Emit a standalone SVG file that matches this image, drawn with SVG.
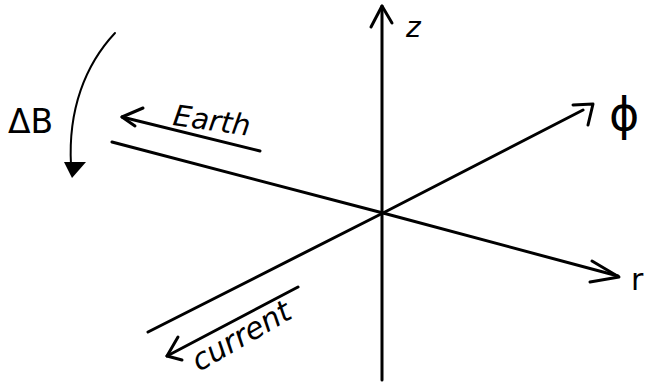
<svg xmlns="http://www.w3.org/2000/svg" width="650" height="385" viewBox="0 0 650 385">
<style>
.ln{fill:none;stroke:#000;stroke-width:3;stroke-linecap:round;stroke-linejoin:round}
.thin{stroke-width:2}
.lbl{font-family:"DejaVu Sans","Liberation Sans",sans-serif;fill:#000}
</style>
<rect width="650" height="385" fill="#fff"/>
<g id="axes">
  <path class="ln" d="M382,380 L382,6"/>
  <path class="ln" d="M371,27 L382,6 L392,23"/>
  <path class="ln" d="M148,332 L383,213 L583,110"/>
  <path class="ln" d="M573,105 L593,104 L588,125"/>
  <path class="ln" d="M112,142 L383,213 L618,276"/>
  <path class="ln" d="M592,261 L619,277 L590,282"/>
</g>
<g id="earth-arrow">
  <path class="ln" d="M260,151 L122,117"/>
  <path class="ln" d="M143,108 L122,117 L135,126"/>
</g>
<g id="current-arrow">
  <path class="ln" d="M298,287 L167,356"/>
  <path class="ln" d="M178,337 L167,356 L182,360"/>
</g>
<g id="deltaB-arrow">
  <path class="ln thin" d="M115,33 C85,65 68,110 71,165"/>
  <path d="M64,162 L86,162 L72,178 Z" fill="#000"/>
</g>
<g id="labels">
  <text class="lbl" x="406" y="37" font-size="28" font-style="italic">z</text>
  <text class="lbl" x="609" y="130" font-size="46">ϕ</text>
  <text class="lbl" x="631" y="290" font-size="30">r</text>
  <text class="lbl" x="8" y="133" font-size="33">ΔB</text>
  <text class="lbl" x="172" y="125" font-size="29" font-style="italic" transform="rotate(8 172 125)">Earth</text>
  <text class="lbl" x="199" y="372" font-size="30" font-style="italic" transform="rotate(-30 199 372)">current</text>
</g>
</svg>
